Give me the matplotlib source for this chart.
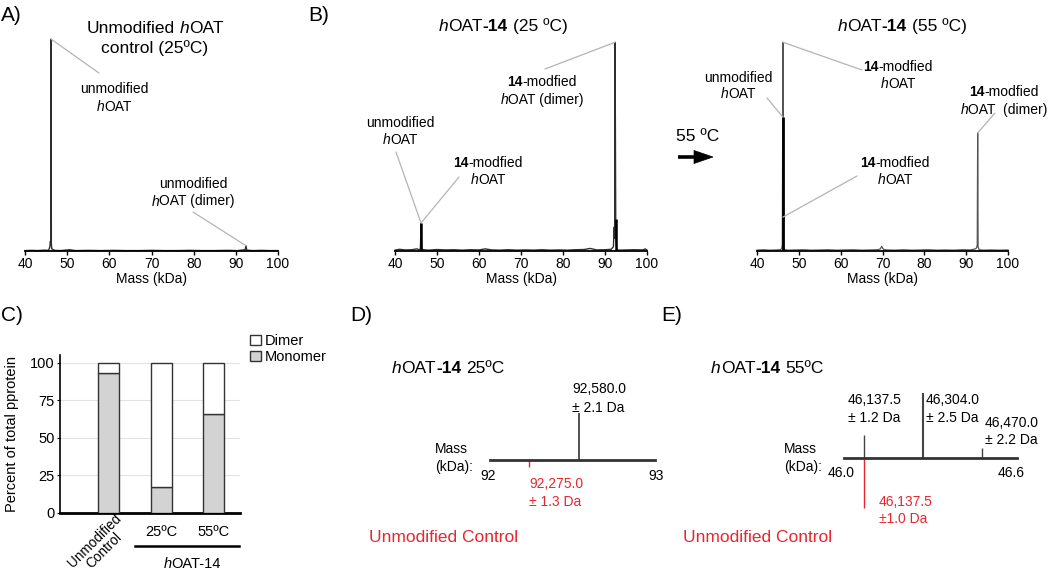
import matplotlib
matplotlib.use('Agg')
import numpy as np
import matplotlib.pyplot as plt
from matplotlib.patches import Patch, Polygon
from matplotlib.lines import Line2D
import matplotlib.transforms as mtransforms

plt.rcParams['font.family'] = ['Liberation Sans', 'DejaVu Sans']

# ---------------- data ----------------
mass_ticks = [40, 50, 60, 70, 80, 90, 100]

# Panel A: unmodified hOAT control (25 C) - deconvoluted spectrum
A_mass = [40.0, 41.5, 43.0, 44.5, 45.6, 45.9, 46.0, 46.1, 46.17, 46.25, 46.35, 47.0, 48.5,
          50.5, 52.0, 55.0, 58.0, 61.0, 64.0, 67.0, 70.0, 73.0, 76.0, 79.0, 82.0, 85.0,
          88.0, 90.5, 92.2, 92.4, 92.6, 94.0, 96.0, 98.0, 100.0]
A_int = [0.002, 0.003, 0.002, 0.004, 0.003, 0.02, 0.045, 0.04, 1.0, 0.035, 0.01, 0.003, 0.002,
         0.006, 0.002, 0.003, 0.002, 0.003, 0.002, 0.002, 0.003, 0.002, 0.002, 0.003, 0.002, 0.002,
         0.003, 0.002, 0.006, 0.025, 0.004, 0.002, 0.003, 0.002, 0.002]

# Panel B (left): hOAT-14 (25 C)
B1_mass = [40.0, 41.0, 42.5, 44.0, 45.2, 45.7, 46.05, 46.2, 46.35, 46.8, 48.0, 50.0, 52.0,
           54.0, 56.0, 58.0, 60.0, 61.5, 63.0, 65.0, 67.0, 69.0, 71.0, 73.0, 75.0, 77.0,
           79.0, 81.0, 83.0, 85.0, 86.5, 88.0, 90.0, 91.5, 92.0, 92.2, 92.3, 92.4, 92.55,
           92.65, 92.8, 93.0, 93.5, 95.0, 97.0, 99.0, 99.6, 100.0]
B1_int = [0.004, 0.008, 0.005, 0.006, 0.01, 0.006, 0.01, 0.132, 0.01, 0.006, 0.004, 0.007, 0.005,
          0.006, 0.004, 0.006, 0.005, 0.01, 0.005, 0.004, 0.006, 0.004, 0.005, 0.004, 0.006, 0.004,
          0.005, 0.004, 0.006, 0.007, 0.012, 0.005, 0.006, 0.008, 0.02, 0.113, 0.06, 0.985, 0.15,
          0.05, 0.01, 0.005, 0.004, 0.005, 0.006, 0.005, 0.01, 0.004]

# Panel B (right): hOAT-14 (55 C)
B2_mass = [40.0, 41.5, 43.0, 44.5, 45.5, 45.9, 46.05, 46.2, 46.35, 46.6, 47.5, 49.0, 51.0,
           53.0, 55.0, 57.0, 59.0, 61.0, 63.0, 65.0, 67.0, 68.8, 69.5, 69.8, 70.2, 71.0,
           73.0, 75.0, 77.0, 79.0, 81.0, 83.0, 85.0, 87.0, 89.0, 91.0, 92.2, 92.5, 92.65,
           92.75, 92.85, 93.1, 94.0, 96.0, 98.0, 100.0]
B2_int = [0.004, 0.006, 0.004, 0.005, 0.006, 0.01, 0.03, 0.985, 0.02, 0.006, 0.004, 0.005, 0.006,
          0.004, 0.005, 0.006, 0.004, 0.005, 0.006, 0.004, 0.005, 0.006, 0.01, 0.022, 0.008, 0.005,
          0.004, 0.006, 0.004, 0.005, 0.006, 0.004, 0.005, 0.004, 0.006, 0.005, 0.01, 0.015, 0.03,
          0.557, 0.02, 0.006, 0.004, 0.005, 0.004, 0.005]
B2_comp_mass = [46.2]      # unmodified hOAT component (55 C)
B2_comp_int = [0.632]
B2_mod_int = 0.16          # 14-modified hOAT component (55 C)

# Panel C: percent of total protein
C_categories = ['Unmodified\nControl', '25ºC', '55ºC']
C_monomer = [93, 17, 66]
C_dimer = [7, 83, 34]
C_yticks = [0, 25, 50, 75, 100]

# Panel D: hOAT-14 25 C (dimer region, kDa)
D_mass = [92.580]
D_height = [47]
D_ctrl_mass = [92.275]
D_ctrl_height = [-7]

# Panel E: hOAT-14 55 C (monomer region, kDa)
E_mass = [46.1375, 46.304, 46.470]
E_height = [23, 65, 10]
E_width = [1.0, 1.5, 1.0]
E_ctrl_mass = [46.1375]
E_ctrl_height = [-50]

# ---------------- figure ----------------
W, H = 1050, 581
fig = plt.figure(figsize=(W / 100, H / 100), dpi=100)
RED = '#e8262e'
LEAD = '#b4b4b4'
SPEC = '#2e2e2e'


def F(x, y):
    return (x / W, 1 - y / H)


def add_ax(l, t, r, b):
    return fig.add_axes([l / W, 1 - b / H, (r - l) / W, (b - t) / H])


renderer = fig.canvas.get_renderer()


def rich(x, y, lines, size=10, ha='left', color='k', lh=17.5):
    space = size * 100 / 72 * 0.278
    for i, parts in enumerate(lines):
        items = []
        total = 0
        for s, st in parts:
            lead = len(s) - len(s.lstrip(' '))
            trail = len(s) - len(s.rstrip(' '))
            core = s.strip(' ')
            t = fig.text(0, 0, core, fontsize=size, color=color,
                         fontstyle='italic' if 'i' in st else 'normal',
                         fontweight='bold' if 'b' in st else 'normal',
                         va='baseline', ha='left')
            w = t.get_window_extent(renderer).width if core else 0
            items.append((t, total + lead * space))
            total += lead * space + w + trail * space
        x0 = x - total / 2 if ha == 'center' else x
        for t, off in items:
            t.set_position(F(x0 + off, y + i * lh))


def spectrum_axes(l, r, top=20, bottom=251):
    ax = add_ax(l, top, r, bottom)
    ax.set_xlim(40, 100)
    ax.set_ylim(0, 1.09)
    for s in ['left', 'right', 'top']:
        ax.spines[s].set_visible(False)
    ax.spines['bottom'].set_linewidth(1.3)
    ax.set_xticks(mass_ticks)
    ax.tick_params(axis='x', direction='out', length=3, width=1, labelsize=10, pad=1.5)
    ax.set_yticks([])
    ax.set_xlabel('Mass (kDa)', fontsize=10, labelpad=0.5)
    ax.patch.set_alpha(0)
    return ax


def leader(ax, xy, start):
    ax.annotate('', xy=xy, xycoords='data', xytext=F(*start), textcoords='figure fraction',
                arrowprops=dict(arrowstyle='-', color=LEAD, lw=0.9, shrinkA=0, shrinkB=0))


# ---- Panel A ----
axA = spectrum_axes(25, 278)
axA.plot(A_mass, A_int, color=SPEC, lw=1.0, clip_on=False)
iA = int(np.argmax(A_int))
leader(axA, (A_mass[iA], A_int[iA]), (99, 73))
leader(axA, (92.4, A_int[A_mass.index(92.4)]), (193, 212))
rich(155, 33, [[('Unmodified ', ''), ('h', 'i'), ('OAT', '')], [('control (25ºC)', '')]],
     size=12.5, ha='center', lh=19.5)
rich(114, 93, [[('unmodified', '')], [('h', 'i'), ('OAT', '')]], ha='center')
rich(193, 188, [[('unmodified', '')], [('h', 'i'), ('OAT (dimer)', '')]], ha='center')

# ---- Panel B left ----
axB1 = spectrum_axes(395, 647)
axB1.plot(B1_mass, B1_int, color=SPEC, lw=1.0, clip_on=False)
axB1.vlines([46.2, 92.55], 0, [B1_int[B1_mass.index(46.2)], B1_int[B1_mass.index(92.55)]],
            color='k', lw=1.8)
leader(axB1, (46.2, B1_int[B1_mass.index(46.2)]), (396, 152))
leader(axB1, (46.2, B1_int[B1_mass.index(46.2)]), (459, 177))
leader(axB1, (92.4, B1_int[B1_mass.index(92.4)]), (545, 69))
rich(503, 31, [[('h', 'i'), ('OAT', ''), ('-14', 'b'), (' (25 ºC)', '')]], size=12.5, ha='center')
rich(400, 127, [[('unmodified', '')], [('h', 'i'), ('OAT', '')]], ha='center', lh=16.5)
rich(488, 167, [[('14', 'b'), ('-modfied', '')], [('h', 'i'), ('OAT', '')]], ha='center', lh=16.5)
rich(542, 86, [[('14', 'b'), ('-modfied', '')], [('h', 'i'), ('OAT (dimer)', '')]], ha='center',
     lh=18)

# ---- Panel B right ----
axB2 = spectrum_axes(757, 1008)
axB2.plot(B2_mass, B2_int, color='#555555', lw=0.9, clip_on=False)
axB2.vlines(B2_comp_mass, 0, B2_comp_int, color='k', lw=2.0)
leader(axB2, (B2_comp_mass[0], B2_comp_int[0]), (767, 98))
leader(axB2, (46.2, B2_int[B2_mass.index(46.2)]), (862, 70))
leader(axB2, (46.2, B2_mod_int), (857, 176))
leader(axB2, (92.75, B2_int[B2_mass.index(92.75)]), (995, 113))
rich(902, 31, [[('h', 'i'), ('OAT', ''), ('-14', 'b'), (' (55 ºC)', '')]], size=12.5, ha='center')
rich(738, 82, [[('unmodified', '')], [('h', 'i'), ('OAT', '')]], ha='center', lh=16.5)
rich(898, 71, [[('14', 'b'), ('-modfied', '')], [('h', 'i'), ('OAT', '')]], ha='center', lh=17)
rich(895, 167, [[('14', 'b'), ('-modfied', '')], [('h', 'i'), ('OAT', '')]], ha='center', lh=17)
rich(1004, 96, [[('14', 'b'), ('-modfied', '')], [('h', 'i'), ('OAT  (dimer)', '')]], ha='center',
     lh=18)

# arrow 55 C
fig.text(*F(676, 141), '55 ºC', fontsize=12.5, ha='left', va='baseline')
fig.add_artist(Line2D([678 / W, 697 / W], [1 - 157 / H, 1 - 157 / H], color='k', lw=2.6,
                      solid_capstyle='butt'))
fig.add_artist(Polygon([F(694, 150.5), F(713, 157), F(694, 163.5)], closed=True,
                       transform=fig.transFigure, facecolor='k', edgecolor='k', lw=0.5))

# ---- Panel C ----
axC = add_ax(60, 355, 240, 513)
xc = np.arange(len(C_categories))
axC.bar(xc, C_monomer, width=0.4, color='#d3d3d3', edgecolor='#333333', lw=1, zorder=3,
        label='Monomer')
axC.bar(xc, C_dimer, bottom=C_monomer, width=0.4, color='white', edgecolor='#333333', lw=1,
        zorder=3, label='Dimer')
axC.set_xlim(-0.93, 2.5)
axC.set_ylim(0, 105.3)
axC.set_yticks(C_yticks)
axC.yaxis.grid(True, color='#e2e2e2', lw=0.8, zorder=0)
axC.set_axisbelow(True)
for s in ['top', 'right']:
    axC.spines[s].set_visible(False)
axC.spines['left'].set_linewidth(1.2)
axC.spines['bottom'].set_linewidth(2.0)
axC.tick_params(axis='y', length=2, pad=2, labelsize=10.5)
axC.tick_params(axis='x', length=0, pad=9, labelsize=10.5)
axC.set_xticks(xc)
axC.set_xticklabels([''] + C_categories[1:])
axC.text(xc[0], 0, C_categories[0], fontsize=9.8, rotation=45, ha='right', va='top',
         rotation_mode='anchor', multialignment='center', linespacing=1.0,
         transform=mtransforms.blended_transform_factory(axC.transData, axC.transAxes)
         + mtransforms.ScaledTranslation(0.05, 0.02, fig.dpi_scale_trans))
axC.set_ylabel('Percent of total pprotein', fontsize=10.5)
axC.yaxis.set_label_coords(-0.225, 0.5)
handles = [Patch(facecolor='white', edgecolor='#333333', lw=1),
           Patch(facecolor='#d3d3d3', edgecolor='#333333', lw=1)]
fig.legend(handles, ['Dimer', 'Monomer'], loc='upper left', bbox_to_anchor=F(250, 334),
           frameon=False, fontsize=10.5, handlelength=0.75, handleheight=0.75,
           handletextpad=0.25, labelspacing=0.15, borderpad=0, borderaxespad=0)
fig.add_artist(Line2D([135 / W, 239 / W], [1 - 546 / H, 1 - 546 / H], color='k', lw=1.8))
rich(192, 568, [[('h', 'i'), ('OAT-14', '')]], size=10.5, ha='center')


def diagram_axes(l, r, xlim, ylim, top=380, bottom=520):
    ax = add_ax(l, top, r, bottom)
    ax.set_xlim(*xlim)
    ax.set_ylim(*ylim)
    for s in ['left', 'right', 'top']:
        ax.spines[s].set_visible(False)
    ax.spines['bottom'].set_position(('data', 0))
    ax.spines['bottom'].set_linewidth(2.0)
    ax.spines['bottom'].set_color('#333333')
    ax.set_xticks([])
    ax.set_yticks([])
    ax.patch.set_alpha(0)
    return ax


# ---- Panel D ----
axD = diagram_axes(490, 655, (92.037, 93.043), (-60, 80))
axD.vlines(D_mass, 0, D_height, color='#444444', lw=1.3)
axD.vlines(D_ctrl_mass, 0, D_ctrl_height, color=RED, lw=1.0)
rich(392, 373, [[('h', 'i'), ('OAT', ''), ('-14', 'b'), (' 25ºC', '')]], size=12.5)
rich(572, 393, [[('92,580.0', '')], [('± 2.1 Da', '')]], lh=18.5)
rich(435, 453, [[('Mass', '')], [('(kDa):', '')]], lh=18)
rich(480, 480, [[('92', '')]])
rich(648, 480, [[('93', '')]])
rich(529, 488, [[('92,275.0', '')], [('± 1.3 Da', '')]], color=RED, lh=17.5)
rich(369, 542, [[('Unmodified Control', '')]], size=12.5, color=RED)

# ---- Panel E ----
axE = diagram_axes(844, 1017, (46.082, 46.567), (-62, 78))
axE.vlines(E_mass, 0, E_height, color='#444444', lw=E_width)
axE.vlines(E_ctrl_mass, 0, E_ctrl_height, color=RED, lw=1.0)
rich(711, 373, [[('h', 'i'), ('OAT', ''), ('-14', 'b'), (' 55ºC', '')]], size=12.5)
rich(848, 404, [[('46,137.5', '')], [('± 1.2 Da', '')]], lh=18)
rich(926, 404, [[('46,304.0', '')], [('± 2.5 Da', '')]], lh=18)
rich(985, 427, [[('46,470.0', '')], [('± 2.2 Da', '')]], lh=17)
rich(784, 453, [[('Mass', '')], [('(kDa):', '')]], lh=18)
rich(828, 477, [[('46.0', '')]])
rich(998, 477, [[('46.6', '')]])
rich(879, 506, [[('46,137.5', '')], [('±1.0 Da', '')]], color=RED, lh=17)
rich(683, 542, [[('Unmodified Control', '')]], size=12.5, color=RED)

# panel letters
for lab, x, y in [('A)', 1, 21), ('B)', 308, 21), ('C)', 1, 321), ('D)', 350, 321), ('E)', 661, 321)]:
    fig.text(*F(x, y), lab, fontsize=15, ha='left', va='baseline')

fig.savefig('out.png', dpi=100)
